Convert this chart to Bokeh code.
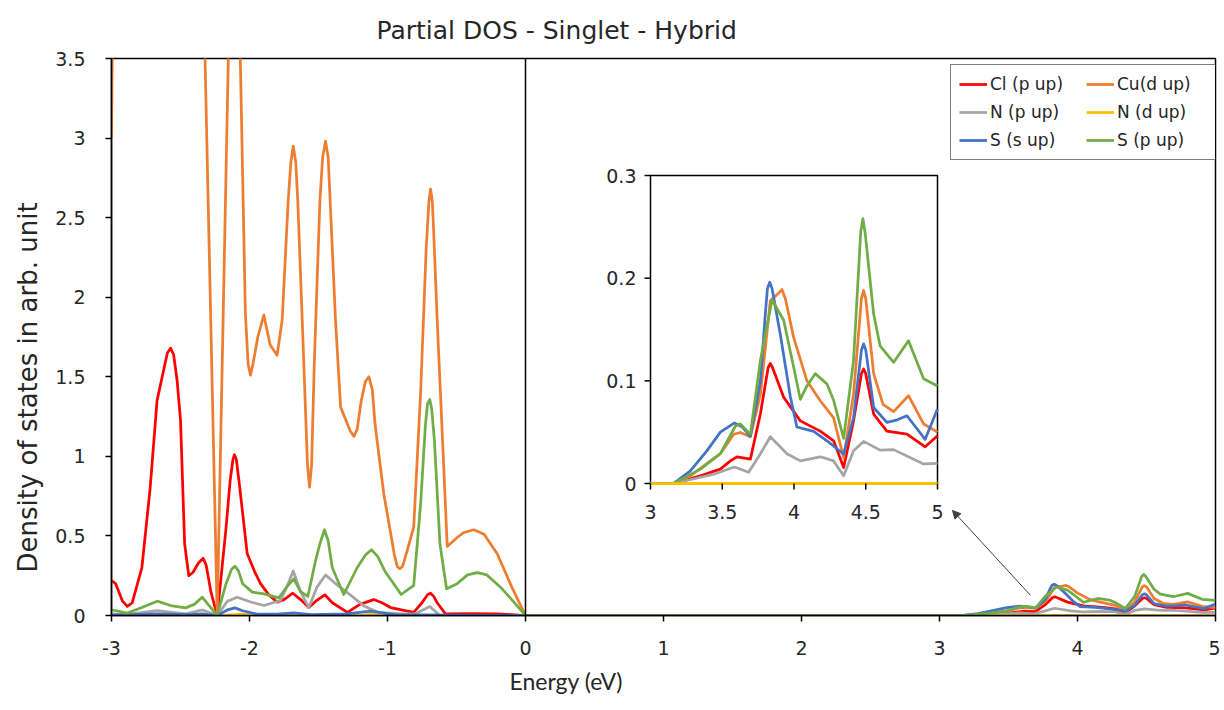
from bokeh.plotting import figure
from bokeh.models import Range1d, FixedTicker, Span, Legend, LegendItem, Arrow, NormalHead, Title
from bokeh.embed import file_html
from bokeh.resources import INLINE
from bokeh.core.properties import value

# ---------------- data ----------------
series_names = ["Cl (p up)", "Cu(d up)", "N (p up)", "N (d up)", "S (s up)", "S (p up)"]
series_colors = ["#FF0000", "#ED7D31", "#A5A5A5", "#FFC000", "#4472C4", "#70AD47"]

cl_e = [-3.0, -2.97, -2.92, -2.886, -2.85, -2.78, -2.72, -2.67, -2.62, -2.595, -2.572, -2.55, -2.525,
        -2.5, -2.47, -2.44, -2.41, -2.37, -2.336, -2.315, -2.28, -2.234, -2.17, -2.14, -2.12, -2.109,
        -2.095, -2.07, -2.017, -1.96, -1.92, -1.86, -1.80, -1.75, -1.686, -1.63, -1.57, -1.52, -1.454,
        -1.40, -1.29, -1.20, -1.10, -1.04, -0.978, -0.81, -0.75, -0.71, -0.688, -0.665, -0.64, -0.58,
        -0.40, -0.2, 0.0,
        3.0, 3.16, 3.348, 3.487, 3.557, 3.603, 3.696, 3.766, 3.82, 3.835, 3.85, 3.928, 4.044, 4.183,
        4.276, 4.346, 4.415, 4.47, 4.485, 4.50, 4.555, 4.647, 4.787, 4.914, 5.0]
cl_v = [0.22, 0.20, 0.09, 0.057, 0.08, 0.30, 0.80, 1.35, 1.55, 1.65, 1.68, 1.64, 1.48,
        1.23, 0.45, 0.25, 0.27, 0.33, 0.36, 0.32, 0.15, 0.0, 0.55, 0.85, 0.98, 1.01,
        0.98, 0.80, 0.39, 0.27, 0.20, 0.13, 0.084, 0.10, 0.14, 0.10, 0.05, 0.09, 0.13,
        0.08, 0.02, 0.07, 0.10, 0.08, 0.05, 0.02, 0.08, 0.13, 0.14, 0.12, 0.08, 0.01,
        0.012, 0.01, 0.0,
        0.0, 0.0, 0.0075, 0.014, 0.022, 0.026, 0.0237, 0.068, 0.113, 0.117, 0.113, 0.084, 0.061, 0.051,
        0.0416, 0.0156, 0.061, 0.107, 0.1115, 0.107, 0.0676, 0.051, 0.048, 0.0357, 0.0465]

cu_e = [-3.0, -2.98, -2.36, -2.234, -2.11, -2.03, -2.01, -1.993, -1.975, -1.94, -1.896, -1.85, -1.80,
        -1.763, -1.72, -1.70, -1.683, -1.665, -1.65, -1.618, -1.58, -1.565, -1.55, -1.53, -1.49,
        -1.47, -1.449, -1.43, -1.41, -1.377, -1.34, -1.27, -1.244, -1.22, -1.19, -1.16, -1.135, -1.11,
        -1.09, -1.027, -0.95, -0.93, -0.911, -0.89, -0.86, -0.81, -0.76, -0.72, -0.70, -0.688,
        -0.675, -0.665, -0.64, -0.567, -0.495, -0.45, -0.375, -0.30, -0.205, -0.1, 0.0,
        3.0, 3.16, 3.278, 3.418, 3.487, 3.58, 3.626, 3.696, 3.766, 3.835, 3.89, 3.916, 3.94, 3.998,
        4.09, 4.183, 4.276, 4.346, 4.415, 4.47, 4.485, 4.50, 4.555, 4.62, 4.694, 4.798, 4.903, 5.0]
cu_v = [3.0, 5.0, 5.0, 0.0, 5.4, 1.9, 1.58, 1.51, 1.58, 1.75, 1.887, 1.70, 1.635,
        1.86, 2.6, 2.85, 2.95, 2.85, 2.6, 1.86, 0.95, 0.807, 0.95, 1.6, 2.6,
        2.88, 2.98, 2.88, 2.5, 1.86, 1.31, 1.16, 1.126, 1.17, 1.35, 1.47, 1.50, 1.42,
        1.2, 0.765, 0.38, 0.31, 0.294, 0.31, 0.40, 0.555, 1.4, 2.3, 2.6, 2.68,
        2.6, 2.4, 1.86, 0.434, 0.49, 0.52, 0.539, 0.51, 0.388, 0.18, 0.0,
        0.0, 0.0, 0.0075, 0.022, 0.029, 0.048, 0.0497, 0.0455, 0.087, 0.178, 0.185, 0.189, 0.18, 0.142,
        0.100, 0.0806, 0.064, 0.025, 0.087, 0.18, 0.188, 0.18, 0.107, 0.077, 0.070, 0.0855, 0.058, 0.050]

np_e = [-3.0, -2.9, -2.67, -2.46, -2.34, -2.234, -2.16, -2.09, -1.99, -1.896, -1.775, -1.72, -1.683,
        -1.63, -1.57, -1.51, -1.449, -1.39, -1.27, -1.17, -1.07, -0.9, -0.80, -0.694, -0.62, 0.0,
        3.0, 3.16, 3.441, 3.585, 3.684, 3.766, 3.835, 3.951, 4.044, 4.183, 4.276, 4.346, 4.415, 4.485,
        4.60, 4.694, 4.903, 5.0]
np_v = [0.01, 0.005, 0.03, 0.01, 0.035, 0.0, 0.09, 0.115, 0.085, 0.063, 0.094, 0.20, 0.28,
        0.15, 0.05, 0.18, 0.255, 0.21, 0.13, 0.06, 0.02, 0.01, 0.01, 0.057, 0.0, 0.0,
        0.0, 0.0, 0.009, 0.016, 0.011, 0.029, 0.0455, 0.029, 0.022, 0.026, 0.022, 0.0075, 0.032, 0.041,
        0.0325, 0.033, 0.019, 0.0195]

nd_e = [-3.0, -2.234, -2.05, -1.9, -1.2, -1.1, -1.0, 0.0, 3.0, 5.0]
nd_v = [0.0, 0.0, 0.008, 0.0, 0.0, 0.012, 0.0, 0.0, 0.0, 0.0]

ss_e = [-3.0, -2.67, -2.45, -2.34, -2.234, -2.16, -2.106, -2.05, -1.95, -1.80, -1.68, -1.55, -1.30,
        -1.12, -0.95, -0.5, 0.0,
        3.0, 3.16, 3.278, 3.394, 3.487, 3.585, 3.64, 3.696, 3.766, 3.80, 3.815, 3.831, 3.847, 3.905,
        3.974, 4.02, 4.137, 4.23, 4.346, 4.415, 4.47, 4.485, 4.50, 4.555, 4.647, 4.72, 4.787, 4.914, 5.0]
ss_v = [0.003, 0.01, 0.005, 0.01, 0.0, 0.035, 0.048, 0.03, 0.01, 0.008, 0.017, 0.005, 0.01,
        0.027, 0.005, 0.002, 0.0,
        0.0, 0.0, 0.0123, 0.032, 0.050, 0.059, 0.055, 0.046, 0.10, 0.165, 0.19, 0.196, 0.19, 0.145,
        0.085, 0.055, 0.0507, 0.0416, 0.0286, 0.064, 0.13, 0.136, 0.13, 0.074, 0.0595, 0.062, 0.066, 0.043, 0.0725]

sp_e = [-3.0, -2.886, -2.78, -2.669, -2.56, -2.464, -2.40, -2.343, -2.30, -2.234, -2.17, -2.13, -2.106,
        -2.08, -2.05, -1.98, -1.896, -1.788, -1.72, -1.679, -1.63, -1.577, -1.52, -1.49, -1.457, -1.43,
        -1.40, -1.317, -1.22, -1.16, -1.116, -1.07, -1.02, -0.901, -0.81, -0.76, -0.725, -0.71, -0.694,
        -0.68, -0.66, -0.62, -0.572, -0.495, -0.42, -0.35, -0.28, -0.181, -0.09, 0.0,
        3.0, 3.16, 3.348, 3.487, 3.592, 3.626, 3.696, 3.766, 3.847, 3.928, 3.998, 4.044, 4.09, 4.148,
        4.23, 4.276, 4.346, 4.415, 4.465, 4.48, 4.495, 4.555, 4.60, 4.694, 4.798, 4.903, 5.0]
sp_v = [0.036, 0.015, 0.05, 0.09, 0.06, 0.048, 0.07, 0.115, 0.07, 0.0, 0.20, 0.29, 0.31,
        0.28, 0.20, 0.147, 0.136, 0.111, 0.19, 0.23, 0.15, 0.12, 0.35, 0.45, 0.539, 0.47,
        0.30, 0.132, 0.30, 0.38, 0.413, 0.37, 0.28, 0.132, 0.189, 0.70, 1.20, 1.33, 1.357,
        1.30, 1.10, 0.45, 0.168, 0.20, 0.255, 0.269, 0.255, 0.178, 0.09, 0.0,
        0.0, 0.0, 0.014, 0.029, 0.056, 0.058, 0.048, 0.12, 0.179, 0.159, 0.113, 0.082, 0.095, 0.107,
        0.097, 0.081, 0.044, 0.12, 0.245, 0.258, 0.245, 0.165, 0.134, 0.118, 0.139, 0.102, 0.095]

main_xticks = [-3, -2, -1, 0, 1, 2, 3, 4, 5]
main_xtick_labels = ["-3", "-2", "-1", "0", "1", "2", "3", "4", "5"]
main_yticks = [0, 0.5, 1, 1.5, 2, 2.5, 3, 3.5]
main_ytick_labels = ["0", "0.5", "1", "1.5", "2", "2.5", "3", "3.5"]
inset_xticks = [3, 3.5, 4, 4.5, 5]
inset_xtick_labels = ["3", "3.5", "4", "4.5", "5"]
inset_yticks = [0, 0.1, 0.2, 0.3]
inset_ytick_labels = ["0", "0.1", "0.2", "0.3"]

title_text = "Partial DOS - Singlet - Hybrid"
xlabel_text = "Energy (eV)"
ylabel_text = "Density of states in arb. unit"

series_e = [cl_e, cu_e, np_e, nd_e, ss_e, sp_e]
series_v = [cl_v, cu_v, np_v, nd_v, ss_v, sp_v]

# ---------------- layout constants ----------------
FRAME_W, FRAME_H = 1104, 557
INSET_L, INSET_B, INSET_W, INSET_H = 539, 132, 287, 308   # inset box, px from frame bottom-left
FONT = "DejaVu Sans"
TXT = "#262626"
LW = 2.75

p = figure(frame_width=FRAME_W, frame_height=FRAME_H,
           x_range=Range1d(main_xticks[0], main_xticks[-1]),
           y_range=Range1d(main_yticks[0], main_yticks[-1]),
           output_backend="svg", toolbar_location=None,
           min_border_left=111, min_border_right=5, min_border_top=58, min_border_bottom=95)
p.background_fill_color = "white"
p.border_fill_color = "white"
p.outline_line_color = "black"
p.outline_line_width = 1.5
p.xgrid.visible = False
p.ygrid.visible = False

for ax in (p.xaxis[0], p.yaxis[0]):
    ax.axis_line_color = "black"
    ax.axis_line_width = 1.5
    ax.major_tick_line_color = "black"
    ax.major_tick_line_width = 1.5
    ax.major_tick_in = 0
    ax.major_tick_out = 6
    ax.minor_tick_line_color = None
    ax.major_label_text_font = FONT
    ax.major_label_text_font_size = "19px"
    ax.major_label_text_color = TXT
p.xaxis.ticker = FixedTicker(ticks=main_xticks)
p.yaxis.ticker = FixedTicker(ticks=main_yticks)
p.xaxis.major_label_overrides = {t: s for t, s in zip(main_xticks, main_xtick_labels)}
p.yaxis.major_label_overrides = {t: s for t, s in zip(main_yticks, main_ytick_labels)}
p.xaxis.major_label_standoff = 19
p.yaxis.major_label_standoff = 20

# title and axis titles
p.title.text = title_text
p.title.align = "left"
p.title.offset = 265
p.title.vertical_align = "middle"
p.title.standoff = 26
p.title.text_font = FONT
p.title.text_font_size = "25px"
p.title.text_font_style = "normal"
p.title.text_color = TXT

p.add_layout(Title(text=xlabel_text, align="left", offset=398, vertical_align="top", standoff=18,
                   text_font="Lato", text_font_size="23px", text_font_style="normal", text_color=TXT), "below")
p.add_layout(Title(text=ylabel_text, align="left", offset=43, vertical_align="middle", standoff=18,
                   text_font=FONT, text_font_size="26px", text_font_style="normal", text_color=TXT), "left")

p.add_layout(Span(location=0, dimension="height", line_color="black", line_width=1.5))

# main series
renderers = []
for e, v, c in zip(series_e, series_v, series_colors):
    r = p.line(e, v, line_color=c, line_width=LW, line_join="round")
    renderers.append(r)

# ---------------- inset via extra ranges ----------------
ix_span = inset_xticks[-1] - inset_xticks[0]
iy_span = inset_yticks[-1] - inset_yticks[0]
e_per_px = ix_span / INSET_W
v_per_px = iy_span / INSET_H
ix0 = inset_xticks[0] - INSET_L * e_per_px
iy0 = inset_yticks[0] - INSET_B * v_per_px
p.extra_x_ranges = {"ix": Range1d(ix0, ix0 + FRAME_W * e_per_px)}
p.extra_y_ranges = {"iy": Range1d(iy0, iy0 + FRAME_H * v_per_px)}

# inset frame
p.quad(left=[inset_xticks[0]], right=[inset_xticks[-1]], bottom=[inset_yticks[0]], top=[inset_yticks[-1]],
       fill_color=None, line_color="black", line_width=1.5, x_range_name="ix", y_range_name="iy")

for e, v, c in zip(series_e, series_v, series_colors):
    ie = [a for a in e if a >= inset_xticks[0]]
    iv = [b for a, b in zip(e, v) if a >= inset_xticks[0]]
    p.line(ie, iv, line_color=c, line_width=LW, line_join="round",
           x_range_name="ix", y_range_name="iy")
# yellow zero line on top of inset bottom edge
p.line([inset_xticks[0], inset_xticks[-1]], [0, 0], line_color=series_colors[3], line_width=LW,
       x_range_name="ix", y_range_name="iy")
# inset ticks
tick_len = 6
p.segment(x0=[inset_xticks[0]] * len(inset_yticks), y0=inset_yticks,
          x1=[inset_xticks[0] - tick_len * e_per_px] * len(inset_yticks), y1=inset_yticks,
          line_color="black", line_width=1.5, x_range_name="ix", y_range_name="iy")
p.segment(x0=inset_xticks, y0=[inset_yticks[0]] * len(inset_xticks),
          x1=inset_xticks, y1=[inset_yticks[0] - tick_len * v_per_px] * len(inset_xticks),
          line_color="black", line_width=1.5, x_range_name="ix", y_range_name="iy")
p.text(x=[inset_xticks[0]] * len(inset_yticks), y=inset_yticks, text=inset_ytick_labels,
       x_offset=-14, text_align="right", text_baseline="middle",
       text_font=value(FONT), text_font_size="19px", text_color=TXT,
       x_range_name="ix", y_range_name="iy")
p.text(x=inset_xticks, y=[inset_yticks[0]] * len(inset_xticks), text=inset_xtick_labels,
       y_offset=21, text_align="center", text_baseline="top",
       text_font=value(FONT), text_font_size="19px", text_color=TXT,
       x_range_name="ix", y_range_name="iy")

# arrow pointing to inset
p.add_layout(Arrow(end=NormalHead(size=8, fill_color="#404040", line_color="#404040"),
                   x_start=3.66, y_start=0.126, x_end=3.094, y_end=0.66,
                   line_color="#404040", line_width=1))

# legend
items = [LegendItem(label=n, renderers=[r]) for n, r in zip(series_names, renderers)]
legend = Legend(items=items, orientation="horizontal", ncols=2, location=(839, 455),
                label_text_font=FONT, label_text_font_size="17px", label_text_color=TXT,
                glyph_width=28, glyph_height=22, label_height=22, label_width=90, label_standoff=3,
                spacing=6, padding=8, margin=0,
                border_line_color="black", border_line_width=1.5, background_fill_alpha=1)
p.add_layout(legend)

open("out.html", "w").write(file_html(p, INLINE))
